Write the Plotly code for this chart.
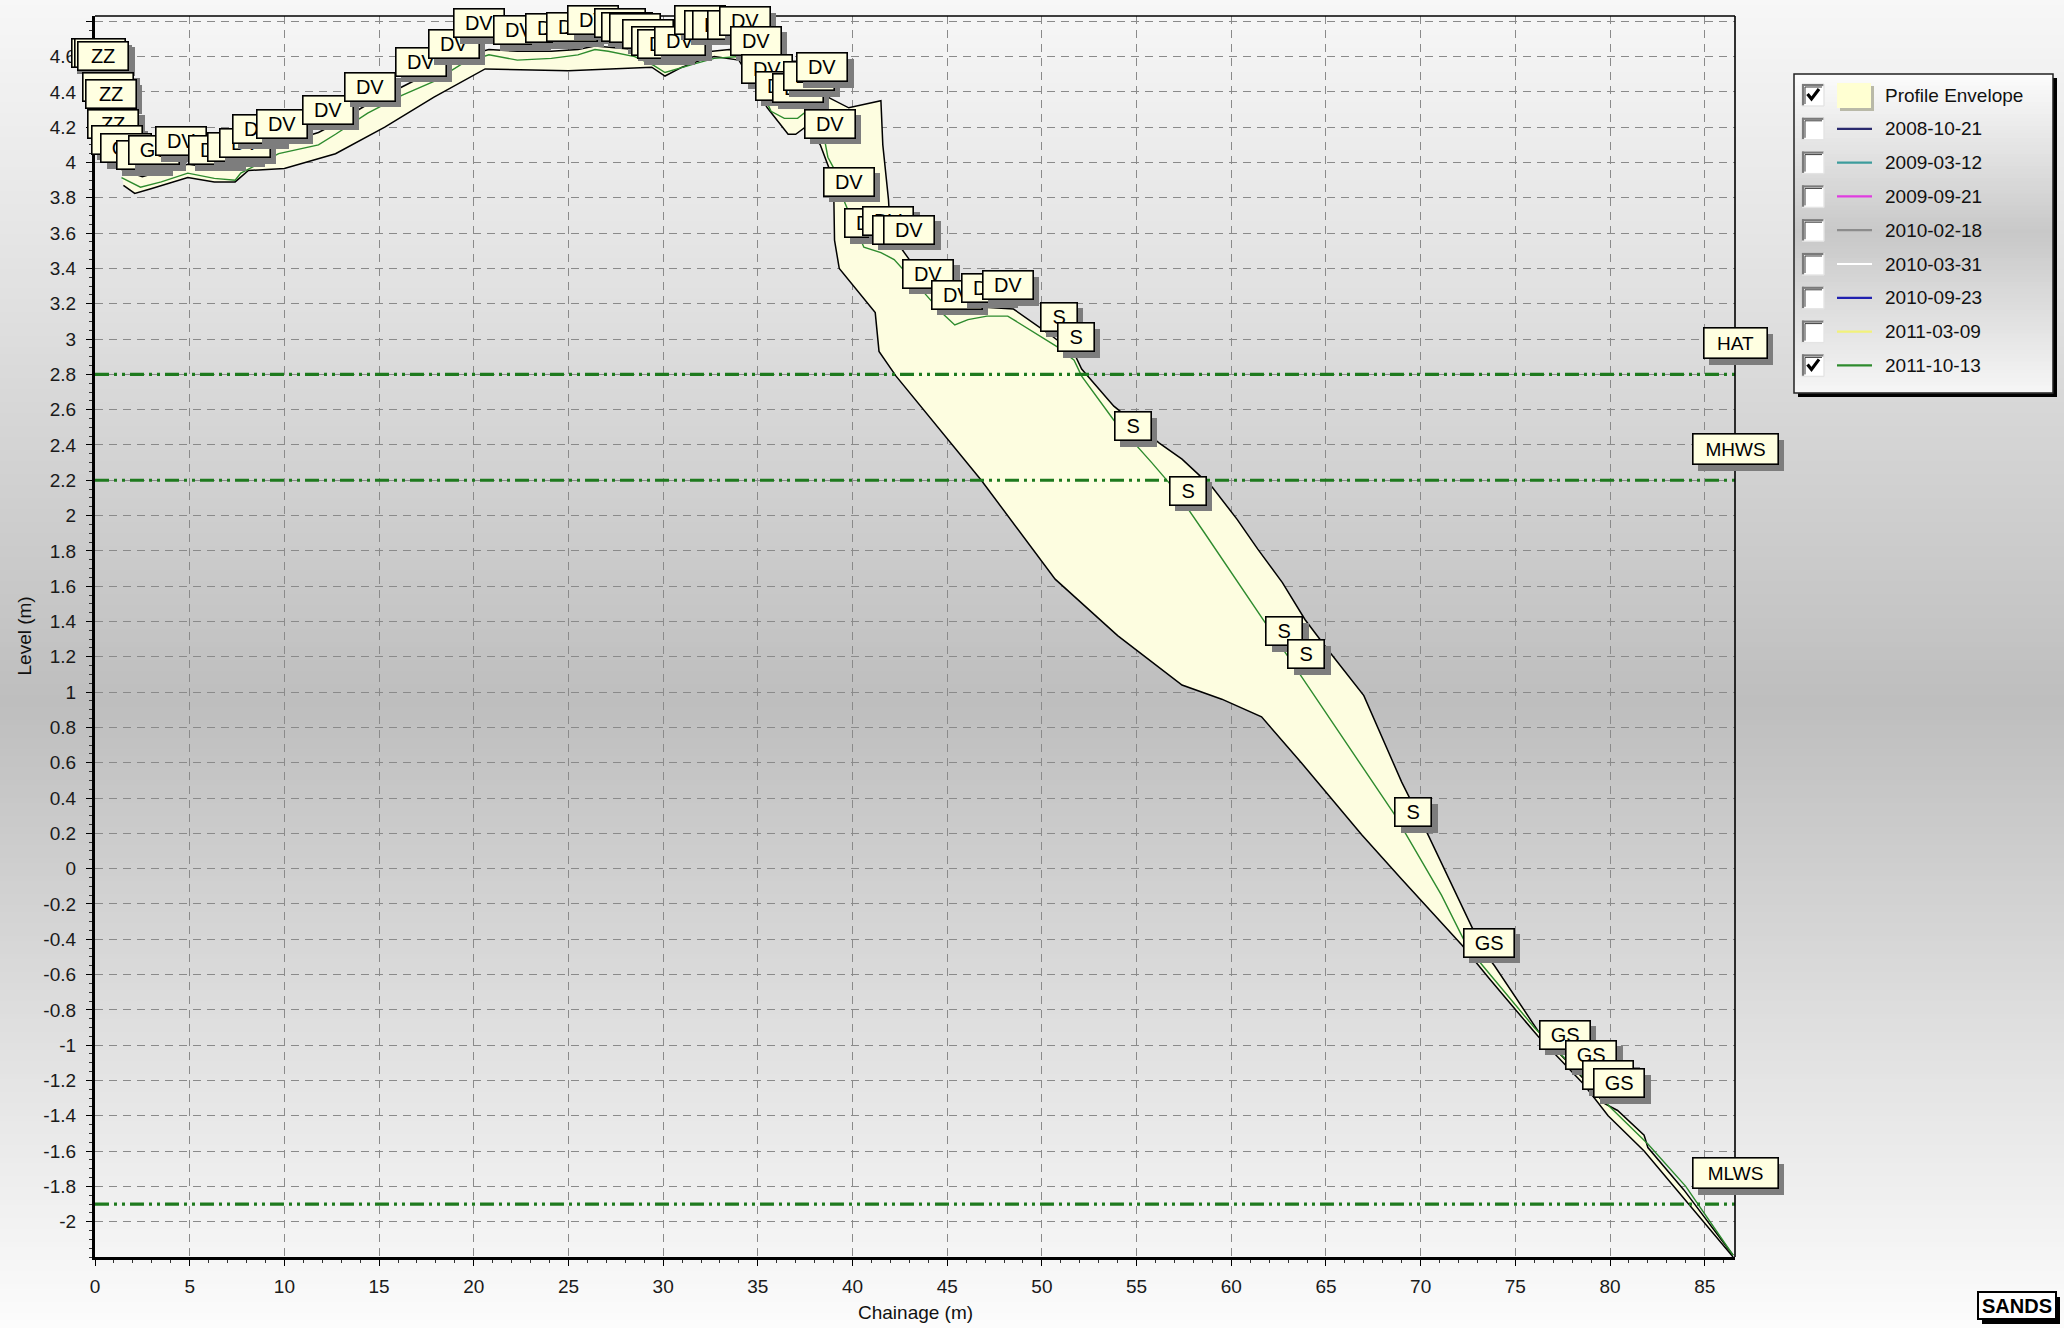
import plotly.graph_objects as go

# ---------------- survey data ----------------
profile_date = "2011-10-13"
profile_x = [1.4, 2.4, 3.5, 4.9, 6.3, 7.4, 7.7, 9.7, 11.8, 12.7, 14.4, 16.2, 17.9, 19.4, 20.8,
             22.3, 24.1, 25.5, 26.4, 27.1, 28.5, 29.5, 30.1, 31.0, 31.7, 32.7, 34.0, 35.0, 35.7,
             36.4, 37.1, 37.8, 38.4, 38.7, 39.0, 39.6, 40.6, 41.5, 42.2, 43.8, 44.7, 45.4, 46.1,
             47.1, 48.2, 50.9, 51.7, 52.1, 53.8, 55.8, 57.0, 58.6, 61.9, 64.2, 68.6, 71.1, 72.5,
             73.5, 76.0, 78.5, 80.0, 82.0, 84.0, 86.5]
profile_y = [3.915, 3.86, 3.89, 3.94, 3.91, 3.90, 3.94, 4.05, 4.10, 4.16, 4.28, 4.38, 4.46, 4.56, 4.61,
             4.58, 4.59, 4.61, 4.64, 4.63, 4.60, 4.55, 4.51, 4.54, 4.56, 4.59, 4.60, 4.45, 4.29,
             4.25, 4.25, 4.31, 4.20, 4.03, 3.97, 3.77, 3.52, 3.49, 3.45, 3.26, 3.15, 3.08, 3.11,
             3.13, 3.13, 2.95, 2.88, 2.79, 2.54, 2.30, 2.15, 1.90, 1.38, 1.01, 0.31, -0.15, -0.45,
             -0.58, -0.90, -1.17, -1.35, -1.56, -1.80, -2.19]

env_upper_x = [1.4, 2.5, 3.5, 4.9, 6.3, 7.4, 8.0, 9.7, 11.8, 12.7, 14.4, 16.2, 17.9, 19.4, 20.8,
               22.3, 24.1, 25.5, 26.4, 28.5, 30.1, 31.7, 33.5, 35.0, 36.0, 37.5, 38.7, 39.8, 41.5,
               41.6, 41.9, 42.0, 43.0, 44.0, 45.5, 47.0, 48.5, 50.5, 51.7, 52.1, 53.8, 56.2, 57.4,
               59.0, 60.3, 61.4, 62.7, 63.9, 65.1, 67.0, 69.0, 70.4, 71.5, 72.7, 73.4, 73.9, 76.2,
               78.6, 79.7, 80.4, 81.8, 82.0, 83.9, 86.5]
env_upper_y = [3.96, 3.92, 3.95, 3.99, 3.97, 3.96, 4.00, 4.10, 4.17, 4.22, 4.33, 4.43, 4.52, 4.60, 4.64,
               4.63, 4.63, 4.64, 4.66, 4.64, 4.60, 4.62, 4.64, 4.60, 4.45, 4.40, 4.37, 4.31, 4.35,
               4.10, 3.79, 3.60, 3.45, 3.32, 3.20, 3.18, 3.17, 3.02, 2.92, 2.83, 2.62, 2.41, 2.32,
               2.16, 1.98, 1.81, 1.62, 1.41, 1.24, 0.98, 0.49, 0.19, -0.06, -0.33, -0.48, -0.55, -0.92,
               -1.19, -1.33, -1.37, -1.51, -1.58, -1.82, -2.19]

env_lower_x = [1.5, 2.1, 3.0, 4.9, 6.3, 7.4, 8.1, 10.0, 12.7, 15.3, 17.9, 20.6, 25.0, 29.4, 30.1,
               31.0, 32.0, 32.7, 34.0, 35.5, 36.6, 37.0, 37.5, 38.3, 39.0, 39.05, 39.3, 41.2, 41.4,
               42.3, 46.8, 50.7, 54.0, 57.4, 59.5, 61.6, 63.7, 66.9, 69.0, 72.2, 73.6, 76.2, 78.6,
               79.9, 81.8, 86.5]
env_lower_y = [3.87, 3.825, 3.853, 3.915, 3.89, 3.89, 3.955, 3.966, 4.05, 4.20, 4.37, 4.53, 4.52, 4.54, 4.49,
               4.54, 4.58, 4.60, 4.58, 4.31, 4.16, 4.16, 4.20, 4.10, 3.90, 3.56, 3.40, 3.15, 2.93,
               2.79, 2.20, 1.64, 1.32, 1.04, 0.96, 0.86, 0.60, 0.19, -0.06, -0.435, -0.62, -0.95, -1.22,
               -1.40, -1.60, -2.20]

tide_names = ["HAT", "MHWS", "MLWS"]
tide_levels = [2.8, 2.2, -1.9]

# feature codes attached to the surveyed points (drawn in this order)
code_text = ["ZZ", "ZZ", "ZZ", "ZZ", "ZZ", "ZZ", "ZZ", "GS", "GS", "GS",
             "DV", "DV", "DV", "DV", "DV", "DV", "DV", "DV", "DV", "DV",
             "DV", "DV", "DV", "DV", "DV", "DV", "DV", "DV", "DV", "DV",
             "DV", "DV", "DV", "DV", "DV", "DV", "DV", "DV", "DV", "DV",
             "DV", "DV", "DV", "DV", "DV", "DV", "DV", "DV", "DV", "DV",
             "DV", "DV", "DV", "S", "S", "S", "S", "S", "S", "S",
             "GS", "GS", "GS", "GS", "GS"]
code_x = [0.08, 0.29, 0.43, 0.70, 0.82, 0.96, 1.14, 1.66, 2.46, 3.14,
          4.54, 6.3, 7.3, 7.9, 8.6, 9.85, 12.3, 14.5, 17.2, 18.95,
          20.3, 22.4, 24.1, 25.2, 26.3, 27.7, 28.1, 28.5, 29.2, 29.7,
          30.0, 30.9, 31.97, 32.5, 32.9, 33.7, 34.3, 34.9, 35.5, 36.2,
          37.1, 37.7, 38.4, 38.8, 39.8, 40.9, 41.9, 42.4, 43.0, 44.0,
          45.5, 47.1, 48.2, 50.9, 51.8, 54.8, 57.7, 62.8, 63.96, 69.6,
          73.6, 77.6, 79.0, 79.9, 80.5]
code_y = [4.62, 4.62, 4.605, 4.43, 4.39, 4.22, 4.13, 4.08, 4.04, 4.07,
          4.12, 4.07, 4.09, 4.11, 4.19, 4.22, 4.30, 4.43, 4.57, 4.67,
          4.79, 4.75, 4.76, 4.77, 4.81, 4.79, 4.77, 4.76, 4.73, 4.69,
          4.67, 4.69, 4.81, 4.78, 4.78, 4.78, 4.80, 4.69, 4.53, 4.435,
          4.42, 4.49, 4.54, 4.22, 3.89, 3.655, 3.67, 3.62, 3.62, 3.37,
          3.25, 3.29, 3.305, 3.126, 3.01, 2.505, 2.14, 1.346, 1.215, 0.32,
          -0.42, -0.94, -1.055, -1.17, -1.215]

legend_names = ["Profile Envelope", "2008-10-21", "2009-03-12", "2009-09-21", "2010-02-18",
                "2010-03-31", "2010-09-23", "2011-03-09", "2011-10-13"]
legend_colors = ["#ffffd2", "#2a2a6e", "#3c9c9c", "#e03ce0", "#8c8c8c",
                 "#ffffff", "#2020b0", "#f2f27a", "#2e8b2e"]
legend_checked = [True, False, False, False, False, False, False, False, True]

x_tick_vals = [0, 5, 10, 15, 20, 25, 30, 35, 40, 45, 50, 55, 60, 65, 70, 75, 80, 85]
y_tick_vals = [round(-2.0 + 0.2 * i, 1) for i in range(35)]  # -2.0 ... 4.8

X_MAX = 86.6
Y_MIN, Y_MAX = -2.2, 4.83

# ---------------- page geometry ----------------
W, H = 2064, 1328
ML, MR, MT, MB = 95, 329, 16, 71
PW = W - ML - MR
PH = H - MT - MB
FONT = "Liberation Sans, Arial, sans-serif"
GREEN = "#2e8b2e"
TIDE_GREEN = "#1e7a1e"
CREAM = "#ffffe1"


def px_x(px):
    return (px - ML) / PW


def px_y(py):
    return (H - MB - py) / PH


def rect_px(x0, y0, x1, y1, fill, line_color=None, line_width=0, layer="above"):
    d = dict(type="rect", xref="paper", yref="paper",
             x0=px_x(x0), x1=px_x(x1), y0=px_y(y1), y1=px_y(y0),
             fillcolor=fill, layer=layer)
    if line_color:
        d["line"] = dict(color=line_color, width=line_width)
    else:
        d["line"] = dict(width=0)
    return d


def line_px(x0, y0, x1, y1, color, width, layer="above"):
    return dict(type="line", xref="paper", yref="paper",
                x0=px_x(x0), x1=px_x(x1), y0=px_y(y0), y1=px_y(y1),
                line=dict(color=color, width=width), layer=layer)


def interp_gray(f, stops):
    for (f0, g0), (f1, g1) in zip(stops, stops[1:]):
        if f0 <= f <= f1:
            t = (f - f0) / (f1 - f0) if f1 > f0 else 0
            return int(round(g0 + t * (g1 - g0)))
    return stops[-1][1]


shapes = []

# page background: vertical light-dark-light gradient
page_stops = [(0.0, 247), (0.22, 225), (0.53, 190), (0.78, 224), (1.0, 252)]
band = 6
for top in range(0, H, band):
    g = interp_gray((top + band / 2) / H, page_stops)
    shapes.append(rect_px(-2, top - 0.5, W + 2, top + band + 0.5,
                          f"rgb({g},{g},{g})", layer="below"))

# plot frame: thin top/right edges
shapes.append(dict(type="line", xref="paper", yref="paper", x0=0, x1=1, y0=1, y1=1,
                   line=dict(color="black", width=1.6), layer="above"))
shapes.append(dict(type="line", xref="paper", yref="paper", x0=1, x1=1, y0=0, y1=1,
                   line=dict(color="black", width=1.6), layer="above"))

fig = go.Figure()

# envelope fill and its bounding lines
fig.add_trace(go.Scatter(
    x=env_upper_x + env_lower_x[::-1], y=env_upper_y + env_lower_y[::-1],
    fill="toself", fillcolor="#fdfde0", mode="lines",
    line=dict(color="rgba(0,0,0,0)", width=0), hoverinfo="skip", showlegend=False))
fig.add_trace(go.Scatter(x=env_upper_x, y=env_upper_y, mode="lines",
                         line=dict(color="black", width=1.5), showlegend=False))
fig.add_trace(go.Scatter(x=env_lower_x, y=env_lower_y, mode="lines",
                         line=dict(color="black", width=1.5), showlegend=False))

# surveyed profile
fig.add_trace(go.Scatter(x=profile_x, y=profile_y, mode="lines", name=profile_date,
                         line=dict(color=GREEN, width=1.4), showlegend=False))

# tidal levels
for lvl in tide_levels:
    fig.add_trace(go.Scatter(x=[0, X_MAX], y=[lvl, lvl], mode="lines",
                             line=dict(color=TIDE_GREEN, width=3.2,
                                       dash="14px,5px,3px,5px,3px,5px"),
                             showlegend=False, hoverinfo="skip"))

annotations = []

# feature code tags
for t, cx, cy in zip(code_text, code_x, code_y):
    w = 37 if len(t) == 1 else 51
    h = 29
    annotations.append(dict(x=cx, y=cy, xref="x", yref="y", text=t, showarrow=False,
                            xanchor="center", yanchor="middle",
                            font=dict(family=FONT, size=20, color="#7d7d7d"),
                            bgcolor="#7d7d7d", bordercolor="#7d7d7d", borderwidth=1,
                            borderpad=0, width=w - 2, height=h - 2, xshift=6, yshift=-6))
    annotations.append(dict(x=cx, y=cy, xref="x", yref="y", text=t, showarrow=False,
                            xanchor="center", yanchor="middle",
                            font=dict(family=FONT, size=20, color="black"),
                            bgcolor=CREAM, bordercolor="black", borderwidth=1.6,
                            borderpad=0, width=w - 2, height=h - 2))

# tidal level tags at the right edge
for name, lvl in zip(tide_names, tide_levels):
    w = 64 if len(name) == 3 else 86
    annotations.append(dict(x=1, y=lvl, xref="paper", yref="y", text=name, showarrow=False,
                            xanchor="center", yanchor="middle",
                            font=dict(family=FONT, size=19, color="#7d7d7d"),
                            bgcolor="#7d7d7d", bordercolor="#7d7d7d", borderwidth=1,
                            borderpad=0, width=w - 2, height=29, xshift=6, yshift=31 - 6))
    annotations.append(dict(x=1, y=lvl, xref="paper", yref="y", text=name, showarrow=False,
                            xanchor="center", yanchor="middle",
                            font=dict(family=FONT, size=19, color="black"),
                            bgcolor=CREAM, bordercolor="black", borderwidth=1.6,
                            borderpad=0, width=w - 2, height=29, yshift=31))

# axis titles
annotations.append(dict(x=px_x(24), y=0.5, xref="paper", yref="paper", text="Level (m)",
                        textangle=-90, showarrow=False, xanchor="center", yanchor="middle",
                        font=dict(family=FONT, size=19, color="#111")))
annotations.append(dict(x=0.5, y=px_y(1312), xref="paper", yref="paper", text="Chainage (m)",
                        showarrow=False, xanchor="center", yanchor="middle",
                        font=dict(family=FONT, size=19, color="#111")))

# ---------------- legend panel ----------------
LX0, LY0, LX1, LY1 = 1794, 74, 2053, 393
shapes.append(rect_px(LX0 + 4, LY0 + 4, LX1 + 4, LY1 + 4, "black"))
leg_stops = [(0.0, 252), (0.5, 200), (1.0, 246)]
lb = 4
for top in range(LY0, LY1, lb):
    g = interp_gray((top + lb / 2 - LY0) / (LY1 - LY0), leg_stops)
    shapes.append(rect_px(LX0, top - 0.3, LX1, min(top + lb, LY1) + 0.3, f"rgb({g},{g},{g})"))
shapes.append(rect_px(LX0, LY0, LX1, LY1, "rgba(0,0,0,0)", "#222", 1.5))

ROW0, ROW_STEP = 95, 33.8
for i, (name, col, chk) in enumerate(zip(legend_names, legend_colors, legend_checked)):
    yc = ROW0 + i * ROW_STEP
    # sunken check box
    bx0, by0, bx1, by1 = 1802, yc - 11, 1824, yc + 11
    shapes.append(rect_px(bx0, by0, bx1, by1, "white"))
    shapes.append(line_px(bx0, by0 + 1, bx1, by0 + 1, "#7a7a7a", 2.2))
    shapes.append(line_px(bx0 + 1, by0, bx0 + 1, by1, "#7a7a7a", 2.2))
    shapes.append(line_px(bx0 + 3, by0 + 3, bx1 - 2, by0 + 3, "#3c3c3c", 1))
    shapes.append(line_px(bx0 + 3, by0 + 3, bx0 + 3, by1 - 2, "#3c3c3c", 1))
    shapes.append(line_px(bx0, by1, bx1, by1, "#e4e4e4", 1.4))
    shapes.append(line_px(bx1, by0, bx1, by1, "#e4e4e4", 1.4))
    if chk:
        path = "M {} {} L {} {} L {} {}".format(
            px_x(bx0 + 5.5), px_y(yc - 1), px_x(bx0 + 9.5), px_y(yc + 4),
            px_x(bx0 + 17), px_y(yc - 6))
        shapes.append(dict(type="path", xref="paper", yref="paper", path=path,
                           line=dict(color="black", width=3.2), layer="above"))
    if i == 0:
        shapes.append(rect_px(1840, 86, 1874, 111, "#b9b9a8"))
        shapes.append(rect_px(1837, 83, 1871, 108, col))
    else:
        shapes.append(line_px(1837, yc, 1872, yc, col, 2.2))
    annotations.append(dict(x=px_x(1883), y=px_y(yc), xref="paper", yref="paper",
                            text=name, showarrow=False, xanchor="left", yanchor="middle",
                            font=dict(family=FONT, size=19, color="#111")))

# brand tag
shapes.append(rect_px(1982, 1297, 2060, 1324, "black"))
shapes.append(rect_px(1978, 1292, 2056, 1319, "white", "black", 2))
annotations.append(dict(x=px_x(2017), y=px_y(1305.5), xref="paper", yref="paper",
                        text="<b>SANDS</b>", showarrow=False, xanchor="center", yanchor="middle",
                        font=dict(family="Liberation Sans Narrow, Liberation Sans, Arial",
                                  size=20, color="black")))


def fmt(v):
    s = "%g" % v
    return "0" if s in ("-0", "0") else s


y_tick_text = [fmt(v) for v in y_tick_vals]
y_tick_text[-1] = ""

axis_font = dict(family=FONT, size=19, color="#1a1a1a")

fig.update_layout(
    width=W, height=H,
    margin=dict(l=ML, r=MR, t=MT, b=MB, pad=0),
    paper_bgcolor="white",
    plot_bgcolor="rgba(0,0,0,0)",
    showlegend=False,
    shapes=shapes,
    annotations=annotations,
    xaxis=dict(range=[0, X_MAX], tickmode="array", tickvals=x_tick_vals,
               ticktext=[str(v) for v in x_tick_vals],
               showgrid=True, gridcolor="#8a8a8a", gridwidth=1.4, griddash="8px,6px",
               zeroline=False, showline=True, linecolor="black", linewidth=3.2,
               ticks="outside", ticklen=6, tickwidth=1.4, tickcolor="black",
               ticklabelstandoff=4, tickfont=axis_font,
               minor=dict(tickmode="linear", tick0=0, dtick=1, ticks="outside",
                          ticklen=3, tickwidth=1, tickcolor="#333", showgrid=False)),
    yaxis=dict(range=[Y_MIN, Y_MAX], tickmode="array", tickvals=y_tick_vals,
               ticktext=y_tick_text,
               showgrid=True, gridcolor="#8a8a8a", gridwidth=1.4, griddash="8px,6px",
               zeroline=False, showline=True, linecolor="black", linewidth=3.2,
               ticks="outside", ticklen=6, tickwidth=1.4, tickcolor="black",
               ticklabelstandoff=6, tickfont=axis_font,
               minor=dict(tickmode="linear", tick0=0, dtick=0.05, ticks="outside",
                          ticklen=3, tickwidth=1, tickcolor="#333", showgrid=False)),
)

fig.write_html("out.html")
